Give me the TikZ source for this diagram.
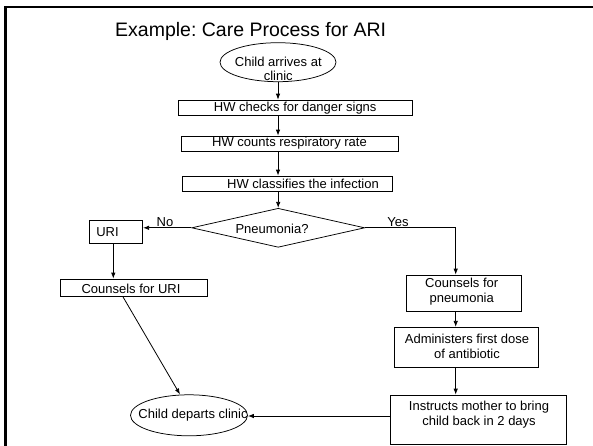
\documentclass[tikz,border=0pt]{standalone}
\usepackage{fontspec}
\setmainfont{Liberation Sans}
\frenchspacing
\usetikzlibrary{shapes.geometric,arrows.meta,calc}
\begin{document}
\begin{tikzpicture}[x=1pt,y=-1pt,
  rbox/.style n args={2}{draw, rectangle, minimum width=#1, minimum height=#2, inner sep=0pt, line width=0.75pt, font=\fontsize{13}{14.5}\selectfont},
  oval/.style n args={2}{draw, ellipse, minimum width=#1, minimum height=#2, inner sep=0pt, line width=0.75pt},
  txt/.style={font=\fontsize{13}{14.5}\selectfont, align=center, inner sep=0pt},
  arr/.style={line width=0.8pt, -{Latex[length=6pt,width=4.5pt]}}]
\useasboundingbox (0,0) rectangle (593,446);
\draw[line width=2.7pt] (5.3,450) -- (5.3,7) -- (597,7);
\node[font=\fontsize{19.5}{23}\selectfont, anchor=base west, inner sep=0pt] (title) at (115,37) {Example: Care Process for ARI};
% shapes
\node[oval={116}{39}] (e1) at (278,62.2) {};
\node[txt] (te1) at (278.3,68.8) {Child arrives at\\clinic};
\node[rbox={233.7}{15.7}] (b1) at (295.2,107.9) {HW checks for danger signs};
\node[rbox={217}{15}] (b2) at (289.5,143.5) {HW counts respiratory rate};
\node[rbox={209.6}{15.5}] (b3) at (287.5,183.75) {};
\node[txt] (tb3) at (303,183.5) {HW classifies the infection};
\node[draw, diamond, minimum width=173, minimum height=39, inner sep=0pt, line width=0.75pt] (d) at (278.2,227.8) {};
\node[txt] (td) at (272,229.2) {Pneumonia?};
\node[rbox={53.4}{23}] (uri) at (116,231.5) {};
\node[txt] (turi) at (107.5,232.5) {URI};
\node[rbox={147.3}{17.5}] (cu) at (133.7,287.75) {};
\node[txt] (tcu) at (131,288.5) {Counsels for URI};
\node[rbox={114.4}{36.7}] (cp) at (463.8,293.35) {};
\node[txt] (tcp) at (461.7,291.7) {Counsels for\\pneumonia};
\node[rbox={143.7}{40}] (adm) at (466.35,347.3) {};
\node[txt] (tadm) at (467,346.3) {Administers first dose\\of antibiotic};
\node[rbox={175.5}{49.5}] (ins) at (478.45,419.75) {};
\node[txt] (tins) at (479,414.8) {Instructs mother to bring\\child back in 2 days};
\node[oval={117}{41}] (e2) at (189,415.3) {};
\node[txt] (te2) at (193,415.5) {Child departs clinic};
% labels
\node[txt] (no) at (165,222.5) {No};
\node[txt] (yes) at (398,222.5) {Yes};
% connectors
\draw[arr] (e1.south) -- (e1.south |- b1.north);
\draw[arr] (b1.south -| e1.south) -- (b2.north -| e1.south);
\draw[arr] (b2.south -| e1.south) -- (b3.north -| e1.south);
\draw[arr] (b3.south -| d.north) -- (d.north);
\draw[arr] (d.west) -- (d.west -| uri.east);
\coordinate (yk) at (455.7,227.8);
\draw[arr] (d.east) -- (yk) -- (yk |- cp.north);
\coordinate (ua) at ([xshift=-2.7pt]uri.south);
\draw[arr] (ua) -- (ua |- cu.north);
\coordinate (ca) at ([xshift=-10.7pt]cu.south);
\coordinate (ea) at ([xshift=-9pt]e2.north);
\draw[arr] (ca) -- (ea);
\draw[arr] (yk |- cp.south) -- (yk |- adm.north);
\draw[arr] (yk |- adm.south) -- (yk |- ins.north);
\coordinate (ia) at ([yshift=3.75pt]ins.west);
\draw[arr] (ia) -- (ia -| e2.east);
\end{tikzpicture}
\end{document}
